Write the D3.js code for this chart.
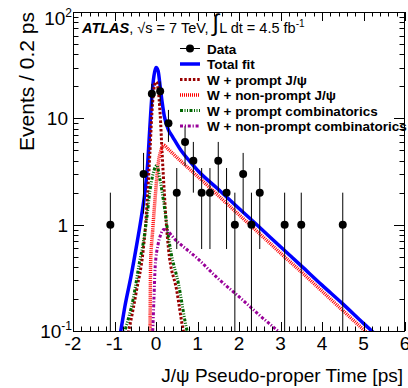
<!DOCTYPE html>
<html>
<head>
<meta charset="utf-8">
<script src="https://cdn.jsdelivr.net/npm/d3@7"></script>
<style>
body { margin: 0; background: #fff; }
text { font-family: "Liberation Sans", Arial, Helvetica, sans-serif; }
</style>
</head>
<body>
<div id="chart"></div>
<script>
let width = 408;
let height = 388;
let margin = ({top: 12, right: 3, bottom: 57, left: 73});

// Data points (bin centres, events per 0.2 ps, error)
let dataT = [-1.1, -0.3, -0.1, 0.1, 0.3, 0.5, 0.7, 0.9, 1.1, 1.3, 1.5, 1.7, 1.9, 2.1, 2.3, 2.5, 3.1, 3.5, 4.5];
let dataN = [1, 3, 17, 18, 9, 2, 6, 4, 2, 2, 4, 2, 1, 3, 1, 2, 1, 1, 1];
let dataErr = [1, 1.73, 4.12, 4.24, 3, 1.41, 2.45, 2, 1.41, 1.41, 2, 1.41, 1, 1.73, 1, 1.41, 1, 1, 1];

// Total fit
let totalT = [-0.9, -0.85, -0.75, -0.6, -0.45, -0.35, -0.25, -0.2, -0.15, -0.1, -0.05, 0, 0.05, 0.1, 0.15, 0.2, 0.3, 0.4, 0.6, 0.8, 1.0, 1.5, 2, 2.5, 3, 3.5, 4, 4.5, 5, 5.5];
let totalV = [0.08, 0.1, 0.17, 0.33, 0.7, 1.2, 2.3, 3.8, 8, 16, 25, 30, 28, 20, 14, 10.5, 7.8, 6.7, 5.0, 4.0, 3.25, 2.15, 1.42, 0.94, 0.62, 0.41, 0.27, 0.18, 0.118, 0.078];

// W + prompt J/psi
let promptT = [-0.72, -0.66, -0.47, -0.31, -0.25, -0.2, -0.15, -0.1, -0.05, 0, 0.05, 0.1, 0.15, 0.2, 0.25, 0.3, 0.5, 0.66, 0.72];
let promptV = [0.08, 0.1, 0.24, 0.57, 1.0, 2.0, 4.5, 11, 19, 22, 19, 11, 4.5, 2.0, 1.0, 0.6, 0.24, 0.1, 0.08];

// W + non-prompt J/psi
let nonPromptT = [-0.15, -0.145, -0.13, -0.08, -0.02, 0.055, 0.12, 0.18, 0.3, 0.5, 1, 1.5, 2, 2.5, 3, 3.5, 4, 4.5, 5, 5.3];
let nonPromptV = [0.08, 0.1, 0.43, 0.88, 1.8, 3.8, 5.0, 5.6, 5.1, 4.3, 2.85, 1.88, 1.24, 0.82, 0.54, 0.36, 0.237, 0.156, 0.103, 0.08];

// W + prompt combinatorics
let combPromptT = [-0.8, -0.75, -0.55, -0.39, -0.3, -0.22, -0.145, -0.08, 0.02, 0.1, 0.18, 0.26, 0.34, 0.54, 0.75, 0.8];
let combPromptV = [0.085, 0.1, 0.2, 0.46, 0.7, 1.17, 2.09, 2.9, 3.6, 2.6, 1.68, 1.0, 0.61, 0.28, 0.1, 0.085];

// W + non-prompt combinatorics
let combNonPromptT = [-0.1, -0.08, -0.05, -0.02, 0.05, 0.12, 0.19, 0.5, 1, 1.5, 2, 2.5, 3, 3.2];
let combNonPromptV = [0.085, 0.1, 0.2, 0.4, 0.65, 0.82, 0.9, 0.70, 0.48, 0.31, 0.21, 0.14, 0.095, 0.08];

let xTickLabels = ["-2", "-1", "0", "1", "2", "3", "4", "5", "6"];

let svg = d3.select("#chart")
    .append("svg")
    .attr("width", width)
    .attr("height", height);

let x0 = margin.left, x1 = width - margin.right;
let y0 = height - margin.bottom, y1 = margin.top;

let xScale = d3.scaleLinear().domain([-2, 6]).range([x0, x1]);
let yScale = d3.scaleLog().domain([0.1, 100]).range([y0, y1]);

svg.append("clipPath").attr("id", "plotclip")
    .append("rect")
    .attr("x", x0).attr("y", y1)
    .attr("width", x1 - x0).attr("height", y0 - y1);

let line = d3.line()
    .x(d => xScale(d[0]))
    .y(d => yScale(d[1]))
    .curve(d3.curveMonotoneX);

// Curve styles
let curves = [
    {t: totalT, v: totalV, color: "#0000ff", w: 3.5, dash: null, label: "Total fit"},
    {t: promptT, v: promptV, color: "#990000", w: 3, dash: "2.5,1.8", label: "W + prompt J/\u03c8"},
    {t: nonPromptT, v: nonPromptV, color: "#ff0000", w: 3.5, dash: "1,1", label: "W + non-prompt J/\u03c8"},
    {t: combPromptT, v: combPromptV, color: "#006600", w: 3, dash: "3,1.5,1,1.5,1,1.5", label: "W + prompt combinatorics"},
    {t: combNonPromptT, v: combNonPromptV, color: "#990099", w: 3, dash: "3,1.8,1.2,1.8", label: "W + non-prompt combinatorics"}
];

let plot = svg.append("g").attr("clip-path", "url(#plotclip)");

curves.forEach(function(c) {
    let pts = c.t.map((t, i) => [t, c.v[i]]);
    plot.append("path")
        .attr("d", line(pts))
        .attr("fill", "none")
        .attr("stroke", c.color)
        .attr("stroke-width", c.w)
        .attr("stroke-dasharray", c.dash);
});

// Data points with error bars
let data = dataT.map((t, i) => ({t: t, n: dataN[i], e: dataErr[i]}));

plot.selectAll(".err")
    .data(data)
    .enter().append("line")
    .attr("class", "err")
    .attr("x1", d => xScale(d.t)).attr("x2", d => xScale(d.t))
    .attr("y1", d => yScale(Math.max(d.n - d.e, 0.05)))
    .attr("y2", d => yScale(d.n + d.e))
    .attr("stroke", "#000")
    .attr("stroke-width", 1);

plot.selectAll(".pt")
    .data(data)
    .enter().append("circle")
    .attr("class", "pt")
    .attr("cx", d => xScale(d.t))
    .attr("cy", d => yScale(d.n))
    .attr("r", 4)
    .attr("fill", "#000");

// Frame and ticks
let axes = svg.append("g").attr("stroke", "#000").attr("stroke-width", 1);

axes.append("rect")
    .attr("x", x0 + 0.5).attr("y", y1 + 0.5)
    .attr("width", x1 - x0 - 1).attr("height", y0 - y1)
    .attr("fill", "none");

xScale.ticks(40).forEach(function(t) {
    let major = Math.abs(t - Math.round(t)) < 1e-6;
    let len = major ? 9 : 4.5;
    let px = Math.round(xScale(t)) + 0.5;
    axes.append("line").attr("x1", px).attr("x2", px).attr("y1", y0).attr("y2", y0 - len);
    axes.append("line").attr("x1", px).attr("x2", px).attr("y1", y1).attr("y2", y1 + len);
});

yScale.ticks().forEach(function(v) {
    let lg = Math.log10(v);
    let major = Math.abs(lg - Math.round(lg)) < 1e-6;
    let len = major ? 11 : 5.5;
    let py = Math.round(yScale(v)) + 0.5;
    axes.append("line").attr("x1", x0).attr("x2", x0 + len).attr("y1", py).attr("y2", py);
    axes.append("line").attr("x1", x1).attr("x2", x1 - len).attr("y1", py).attr("y2", py);
});

// X tick labels
svg.selectAll(".xlab")
    .data(xTickLabels)
    .enter().append("text")
    .attr("x", d => xScale(+d))
    .attr("y", 350)
    .attr("text-anchor", "middle")
    .style("font-size", "19px")
    .text(d => d);

// Y tick labels
let yLabels = [{v: 100, base: "10", sup: "2"}, {v: 10, base: "10", sup: ""}, {v: 1, base: "1", sup: ""}, {v: 0.1, base: "10", sup: "-1"}];
yLabels.forEach(function(l) {
    let ty = Math.max(yScale(l.v) + 7, 25);
    let t = svg.append("text")
        .attr("x", l.sup ? 72 : 68)
        .attr("y", ty)
        .attr("text-anchor", "end")
        .style("font-size", "19px");
    t.append("tspan").text(l.base);
    if (l.sup) {
        t.append("tspan").attr("dy", -8).style("font-size", "12px").text(l.sup);
    }
});

// Axis titles
svg.append("text")
    .attr("x", 403).attr("y", 382)
    .attr("text-anchor", "end")
    .style("font-size", "19px")
    .text("J/\u03c8 Pseudo-proper Time [ps]");

svg.append("text")
    .attr("transform", "translate(34,12) rotate(-90)")
    .attr("text-anchor", "end")
    .style("font-size", "21px")
    .text("Events / 0.2 ps");

// ATLAS label
let atlas = svg.append("text").attr("x", 82).attr("y", 33).style("font-size", "14.5px");
atlas.append("tspan").style("font-weight", "bold").style("font-style", "italic").text("ATLAS");
atlas.append("tspan").text(", \u221as = 7 TeV, ");
atlas.append("tspan").attr("dy", -2).style("font-size", "24px").text("\u222b");
atlas.append("tspan").attr("dy", 2).text("L dt = 4.5 fb");
atlas.append("tspan").attr("dy", -6).style("font-size", "10px").text("-1");

// Legend
let legY = 48.5, legStep = 15.5;
let leg = svg.append("g");

leg.append("line")
    .attr("x1", 180).attr("x2", 200).attr("y1", legY).attr("y2", legY)
    .attr("stroke", "#000").attr("stroke-width", 1);
leg.append("circle").attr("cx", 190).attr("cy", legY).attr("r", 4).attr("fill", "#000");
leg.append("text")
    .attr("x", 207).attr("y", legY + 5)
    .style("font-size", "13.5px").style("font-weight", "bold")
    .text("Data");

curves.forEach(function(c, i) {
    let ly = legY + legStep * (i + 1);
    leg.append("line")
        .attr("x1", 180).attr("x2", 200).attr("y1", ly).attr("y2", ly)
        .attr("stroke", c.color)
        .attr("stroke-width", c.w)
        .attr("stroke-dasharray", c.dash);
    leg.append("text")
        .attr("x", 207).attr("y", ly + 5)
        .style("font-size", "13.5px").style("font-weight", "bold")
        .text(c.label);
});
</script>
</body>
</html>
